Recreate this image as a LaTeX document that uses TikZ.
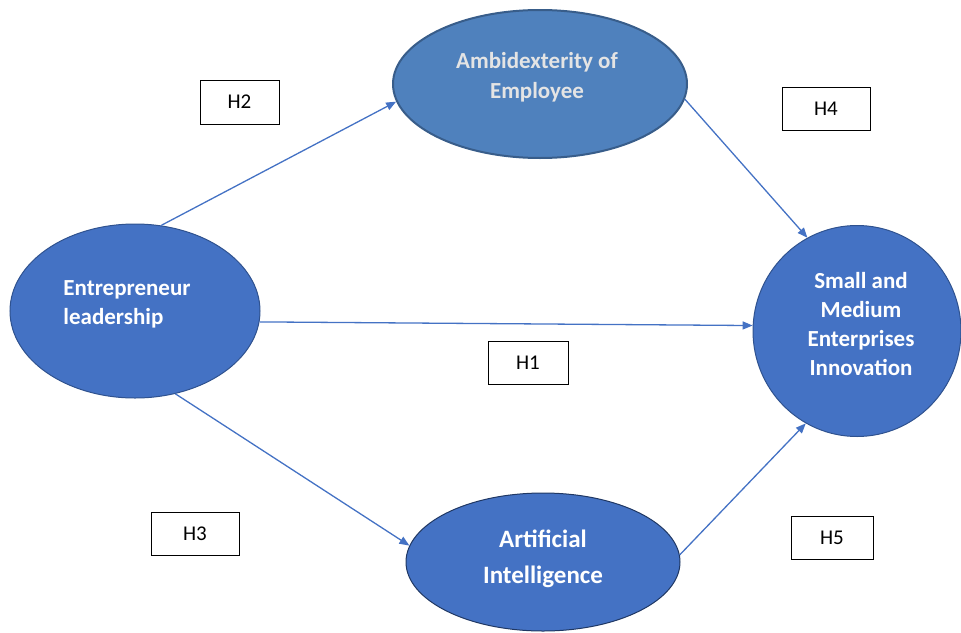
\documentclass[tikz,border=0pt]{standalone}
\usepackage{fontspec}
\setmainfont{Carlito}
\usetikzlibrary{arrows.meta,shapes.geometric}
\definecolor{accent}{HTML}{4472C4}
\definecolor{accdark}{HTML}{2F528F}
\definecolor{ambfill}{HTML}{4F81BD}
\definecolor{ambdraw}{HTML}{385D8A}
\definecolor{aidraw}{HTML}{203864}
\definecolor{ambtext}{HTML}{E4E4E4}
\tikzset{
  blob/.style={ellipse, inner sep=0pt, fill=accent, draw=accdark, line width=1pt},
  lbl/.style={text=white, font=\bfseries\fontsize{23}{29}\selectfont, inner sep=0pt},
  hbox/.style={draw=black, fill=white, line width=0.9pt, font=\fontsize{21}{24}\selectfont, inner sep=0pt},
  link/.style={draw=accent, line width=1.3pt, -{Triangle[length=10pt,width=8pt]}}
}
\begin{document}
\begin{tikzpicture}[x=1pt,y=-1pt]
\useasboundingbox (0,0) rectangle (961,632);
% ellipses
\node[blob, fill=ambfill, draw=ambdraw, line width=2pt, minimum width=294pt, minimum height=148pt] (amb) at (540,84) {};
\node[blob, minimum width=250pt, minimum height=174pt] (el) at (135,311) {};
\node[blob, minimum width=208pt, minimum height=211pt] (sme) at (857,331) {};
\node[blob, draw=aidraw, minimum width=274pt, minimum height=138pt] (ai) at (543,562) {};
% texts
\node[lbl, text=ambtext, align=center, font=\bfseries\fontsize{23}{30}\selectfont] (ambt) at (537,77) {Ambidexterity of\\Employee};
\node[lbl, align=left] (elt) at (127,304) {Entrepreneur\\leadership};
\node[lbl, align=center] (smet) at (861,324.5) {Small and\\Medium\\Enterprises\\Innovation};
\node[lbl, align=center, font=\bfseries\fontsize{25}{36}\selectfont] (ait) at (543,559) {Artificial\\Intelligence};
% hypothesis boxes
\node[hbox, minimum width=79pt, minimum height=44pt] (h2) at (239.5,102) {H2};
\node[hbox, minimum width=88pt, minimum height=43pt] (h4) at (826,108.5) {H4};
\node[hbox, minimum width=80pt, minimum height=43pt] (h1) at (528,362.5) {H1};
\node[hbox, minimum width=88pt, minimum height=43pt] (h3) at (195,533.5) {H3};
\node[hbox, minimum width=82pt, minimum height=43pt] (h5) at (832,537.5) {H5};
% connectors
\draw[link] (el.73.8) -- (amb.187.7);
\draw[link] (amb.-6.3) -- (sme.118);
\draw[link] (el.-5) -- (sme.177);
\draw[link] (el.-64.5) -- (ai.173);
\draw[link] (ai.3.8) -- (sme.241);
\end{tikzpicture}
\end{document}
